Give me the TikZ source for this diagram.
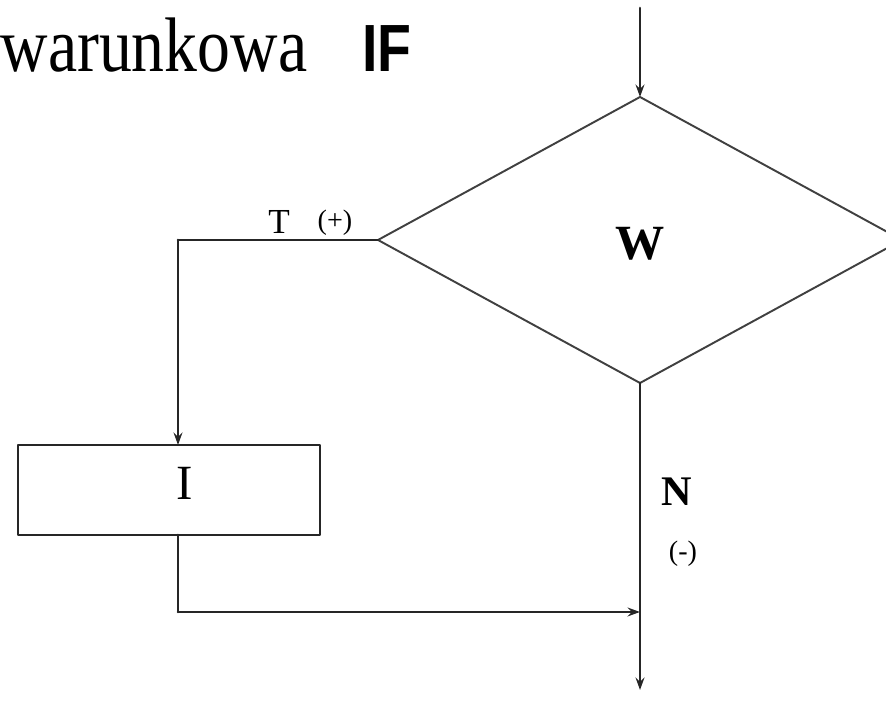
\documentclass[tikz,border=0pt]{standalone}
\usepackage{fontspec}
\setmainfont{Liberation Serif}
\newfontfamily\headsans{Liberation Sans}
\usetikzlibrary{shapes.geometric,arrows.meta}

\tikzset{
  flow/.style={line width=0.75pt, black!85},
  flowarrow/.style={flow, -{Stealth[length=3.5pt,width=2.5pt]}},
  cond/.style={diamond, draw, line width=0.55pt, black!75, inner sep=0pt, outer sep=0pt,
    minimum width=5.24cm, minimum height=2.86cm},
  instr/.style={rectangle, draw, flow, inner sep=0pt, outer sep=0pt,
    minimum width=3.02cm, minimum height=0.9cm},
  lbl/.style={inner sep=0pt}
}

\begin{document}
\begin{tikzpicture}[line cap=round, line join=round]

% --- frame of the picture (as in the scan) ---
\useasboundingbox (0,0) rectangle (8.86,7.02);
\clip (0,0) rectangle (8.86,7.02);

% --- heading ---
\node[lbl, anchor=base west, xscale=0.85] (head) at (0,6.30)
  {\fontsize{22}{24}\selectfont warunkowa};
\node[lbl, anchor=base west, xscale=0.83] (headif) at (3.62,6.30)
  {\headsans\bfseries\fontsize{19}{21}\selectfont IF};

% --- condition and instruction ---
\node[cond] (W) at (6.40,4.62) {};
\node[lbl] (Wtxt) at (6.40,4.58) {\bfseries\fontsize{14}{16}\selectfont W};

\node[instr] (I) at (1.69,2.12) {};
\node[lbl] (Itxt) at (1.85,2.19) {\fontsize{14}{16}\selectfont I};

% --- helper points of the connectors ---
\coordinate (in) at (6.40,6.94);
\coordinate (tbend) at (1.78,4.62);
\coordinate (itop) at (1.78,2.57);
\coordinate (ibot) at (1.78,1.67);
\coordinate (jbend) at (1.78,0.90);
\coordinate (join) at (6.40,0.90);
\coordinate (out) at (6.40,0.12);

% --- connectors ---
\draw[flowarrow] (in) -- (W.north);
\draw[flow] (W.west) -- (tbend);
\draw[flowarrow] (tbend) -- (itop);
\draw[flow] (ibot) -- (jbend);
\draw[flowarrow] (jbend) -- (join);
\draw[flowarrow] (W.south) -- (out);

% --- branch labels ---
\node[lbl] (T) at (2.79,4.80) {\fontsize{10}{12}\selectfont T};
\node[lbl] (Tplus) at (3.35,4.79) {\fontsize{8}{10}\selectfont (+)};
\node[lbl] (N) at (6.77,2.10) {\bfseries\fontsize{12}{14}\selectfont N};
\node[lbl] (Nminus) at (6.83,1.48) {\fontsize{8}{10}\selectfont (-)};

\end{tikzpicture}
\end{document}
